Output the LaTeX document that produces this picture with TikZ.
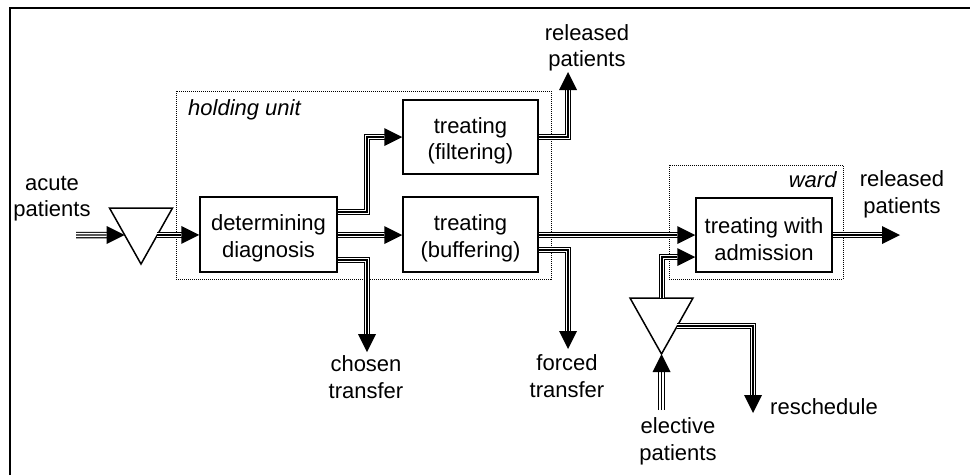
\documentclass[tikz,border=0pt]{standalone}
\usepackage{fontspec}
\setmainfont{Liberation Sans}
\usetikzlibrary{arrows.meta,calc}
\newcommand{\topst}{\rule{0pt}{24pt}}
\newcommand{\flow}[1]{%
  \draw[line width=6.5pt,shorten >=17pt] #1;
  \draw[white,line width=4.2pt,shorten >=17pt] #1;
  \draw[line width=1.3pt,-{Triangle[length=18pt,width=18pt,line width=0pt]}] #1;}
\begin{document}
\begin{tikzpicture}[x=1pt,y=-1pt,
  txt/.style={font=\fontsize{22pt}{26.5pt}\selectfont, inner sep=0pt},
  box/.style={txt, draw, line width=1.5pt, align=center},
  lbl/.style={txt, align=center, anchor=north},
  dotbox/.style={draw, line width=1pt, dash pattern=on 1pt off 1pt, inner sep=0pt},
  tri/.style={draw, line width=1.5pt, fill=white}]
\useasboundingbox (0,0) rectangle (970,475);
% frame
\coordinate (fb) at (10,475);
\coordinate (fc) at (10,8.3);
\coordinate (fr) at (970,8.3);
\draw[line width=2pt] (fb) -- (fc) -- (fr);
% dotted groups
\node[dotbox, minimum width=375pt, minimum height=188pt] (hold) at (363.5,185) {};
\node[dotbox, minimum width=174pt, minimum height=114pt] (ward) at (756,222) {};
\node[txt, anchor=base west, font=\fontsize{22pt}{26.5pt}\selectfont\itshape] (holdlbl) at (188,115) {holding unit};
\node[txt, anchor=base east, font=\fontsize{22pt}{26.5pt}\selectfont\itshape] (wardlbl) at (836.7,187.3) {ward};
% boxes
\node[box, minimum width=137pt, minimum height=75pt] (det) at (268.5,234.5) {\topst determining\\diagnosis};
\node[box, minimum width=135pt, minimum height=74pt] (filt) at (470.5,137) {\topst treating\\(filtering)};
\node[box, minimum width=135pt, minimum height=75pt] (buf) at (470.5,234.5) {\topst treating\\(buffering)};
\node[box, minimum width=136pt, minimum height=74pt] (adm) at (764,235) {\topst treating with\\admission};
% triangles
\coordinate (tA1) at (109.5,208);
\coordinate (tB1) at (172.5,208);
\coordinate (tC1) at (141,264);
\draw[tri] (tA1) -- (tB1) -- (tC1) -- cycle;
\coordinate (tA2) at (630,298);
\coordinate (tB2) at (693,298);
\coordinate (tC2) at (661.5,354);
\draw[tri] (tA2) -- (tB2) -- (tC2) -- cycle;
\coordinate (t1in) at ($(tA1)!0.482!(tC1)$);
\coordinate (t1out) at ($(tB1)!0.482!(tC1)$);
\coordinate (t2out) at ($(tB2)!0.5!(tC2)$);
\coordinate (t2top) at (662,298);
% labels
\node[lbl] (acute) at (52,166) {\topst acute\\patients};
\node[lbl] (rel1) at (587,16) {\topst released\\patients};
\node[lbl] (rel2) at (902,162.7) {\topst released\\patients};
\node[lbl] (chosen) at (366,347.7) {\topst chosen\\transfer};
\node[lbl] (forced) at (567,346.7) {\topst forced\\transfer};
\node[lbl] (elective) at (678,409.3) {\topst elective\\patients};
\node[txt, anchor=base west] (resched) at (770,414) {reschedule};
% free ends and bends
\coordinate (acin) at (76,235);
\coordinate (chosenend) at (367,352);
\coordinate (forcedend) at (568,349);
\coordinate (rel1end) at (568,72);
\coordinate (rel2end) at (900,235);
\coordinate (elecstart) at (661.5,410);
\coordinate (reschend) at (753,413);
% flows
\flow{(acin) -- (t1in)}
\flow{(t1out) -- (t1out -| det.west)}
\flow{(det.east |- 0,212) -- (367,212) -- (367,137) -- (filt.west)}
\flow{(det.east |- 0,235) -- (buf.west |- 0,235)}
\flow{(det.east |- 0,260) -- (chosenend |- 0,260) -- (chosenend)}
\flow{(filt.east) -- (rel1end |- filt.east) -- (rel1end)}
\flow{(buf.east |- 0,235) -- (adm.west |- 0,235)}
\flow{(buf.east |- 0,250) -- (forcedend |- 0,250) -- (forcedend)}
\flow{(t2top) -- (662,257) -- (adm.west |- 0,257)}
\flow{(elecstart) -- (tC2)}
\flow{(t2out) -- (reschend |- t2out) -- (reschend)}
\flow{(adm.east |- rel2end) -- (rel2end)}
\end{tikzpicture}
\end{document}
